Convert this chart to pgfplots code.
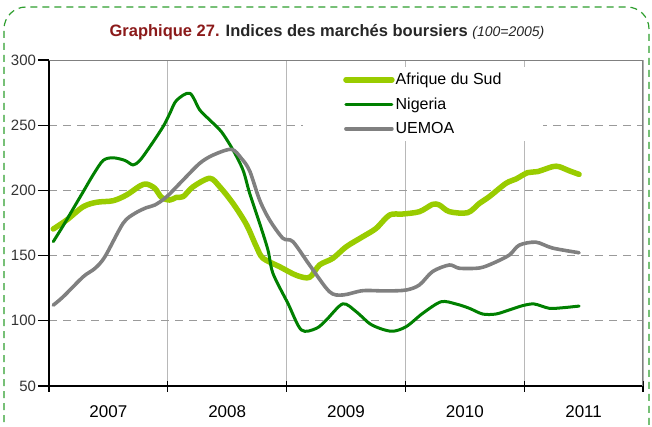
\documentclass[border=0pt]{standalone}
\usepackage{fontspec}
\setmainfont{Liberation Sans}
\usepackage{pgfplots}
\pgfplotsset{compat=1.18}
\definecolor{sudgreen}{HTML}{99CC00}
\definecolor{niggreen}{HTML}{008000}
\definecolor{uemgray}{HTML}{808080}
\definecolor{titlered}{HTML}{8B1A1A}
\definecolor{bordergreen}{HTML}{2E9E2E}
\definecolor{gridgray}{HTML}{9A9A9A}
\definecolor{vgridgray}{HTML}{B8B8B8}

\begin{document}
\begin{tikzpicture}[x=1pt,y=1pt]
\path[use as bounding box] (0,0) rectangle (652,426);
\draw[bordergreen, line width=1.2pt, dash pattern=on 7pt off 5pt, rounded corners=22pt] (4,-30) rectangle (649,419);
\node[font=\bfseries\fontsize{16.5}{18}\selectfont, text=black!85] at (327,394)
  {\textcolor{titlered}{Graphique 27.} Indices des marchés boursiers {\mdseries\itshape\fontsize{14}{16}\selectfont (100=2005)}};

\begin{axis}[
  at={(49pt,40pt)}, anchor=south west,
  scale only axis, width=594pt, height=326pt,
  xmin=0, xmax=5, ymin=50, ymax=300,
  axis lines=left,
  axis line style={-, black, line width=1.3pt},
  ytick={50,100,...,300},
  xtick={0,1,2,3,4,5},
  xticklabels={},
  tick align=center,
  major tick length=11pt,
  tick style={black, line width=1.2pt},
  ytick style={xshift=-5.5pt},
  xmajorgrids, ymajorgrids,
  x grid style={vgridgray, line width=0.8pt},
  y grid style={gridgray, line width=0.9pt, dash pattern=on 8pt off 6pt},
  /pgf/number format/assume math mode=true,
  yticklabel style={font=\fontsize{15}{17}\selectfont, text=black!80, xshift=-4pt},
  extra x ticks={0.5,1.5,2.5,3.5,4.5},
  extra x tick labels={2007,2008,2009,2010,2011},
  extra x tick style={grid=none, major tick length=0pt,
    tick label style={yshift=-16pt, font=\fontsize{17}{19}\selectfont, text=black}},
  legend style={at={(rel axis cs:0.4276,0.9785)}, anchor=north west,
    draw=none, fill=white, inner xsep=40pt, inner ysep=4pt,
    font=\fontsize{16}{18}\selectfont, row sep=7.5pt,
    cells={anchor=west}, nodes={inner xsep=1pt}},
  legend image code/.code={\draw[#1] (0pt,0pt) -- (46pt,0pt);},
  every axis plot/.append style={line cap=round, line join=round},
]
\addplot[sudgreen, line width=5.5pt, smooth] coordinates {
(0.036,170.4)(0.149,177.3)(0.288,187.5)(0.401,190.9)(0.540,192.1)(0.653,196.5)
(0.765,203.4)(0.821,204.9)(0.891,201.6)(0.947,194.7)(1.017,192.6)(1.073,194.7)
(1.129,195.2)(1.213,202.8)(1.353,209.3)(1.437,202.8)(1.549,190.0)(1.661,174.0)
(1.745,157.0)(1.801,148.0)(1.941,141.5)(2.082,134.9)(2.193,133.3)(2.277,142.8)
(2.389,147.9)(2.502,156.8)(2.641,164.5)(2.754,170.9)(2.866,181.1)(2.977,181.9)
(3.118,183.7)(3.229,189.3)(3.286,188.8)(3.370,183.7)(3.524,182.9)(3.622,190.0)
(3.706,195.2)(3.846,205.4)(3.930,208.7)(4.028,213.6)(4.112,214.4)(4.238,218.2)
(4.294,218.2)(4.378,215.1)(4.462,212.3)};
\addlegendentry{Afrique du Sud}
\addplot[niggreen, line width=3pt, smooth] coordinates {
(0.036,160.7)(0.120,173.0)(0.204,186.0)(0.288,199.0)(0.372,212.0)(0.456,223.0)
(0.540,225.0)(0.639,223.0)(0.708,219.5)(0.765,223.0)(0.849,233.5)(0.961,249.0)
(1.017,259.0)(1.073,269.0)(1.185,274.5)(1.269,261.7)(1.353,254.0)(1.451,245.0)
(1.549,231.0)(1.633,215.6)(1.689,197.8)(1.773,174.8)(1.843,154.3)(1.885,136.4)
(2.011,113.4)(2.124,93.0)(2.250,94.2)(2.334,100.6)(2.473,113.0)(2.586,107.0)
(2.714,97.0)(2.880,92.0)(3.006,95.5)(3.145,105.7)(3.300,114.6)(3.426,112.9)
(3.538,109.6)(3.650,105.2)(3.762,105.2)(3.874,108.3)(3.986,111.6)(4.084,112.9)
(4.210,109.6)(4.322,110.0)(4.462,111.3)};
\addlegendentry{Nigeria}
\addplot[uemgray, line width=3.6pt, smooth] coordinates {
(0.036,112.0)(0.120,118.5)(0.288,133.8)(0.387,140.2)(0.471,149.2)(0.624,174.8)
(0.723,182.4)(0.821,186.8)(0.891,188.8)(0.989,195.0)(1.129,208.0)(1.269,220.8)
(1.381,227.1)(1.535,231.5)(1.619,224.6)(1.689,215.0)(1.773,192.6)(1.857,177.3)
(1.969,163.3)(2.053,160.7)(2.193,142.8)(2.361,122.3)(2.473,119.8)(2.641,123.1)
(2.838,122.9)(3.006,123.6)(3.118,127.5)(3.229,137.8)(3.370,142.8)(3.454,140.3)
(3.622,140.5)(3.734,144.0)(3.874,150.4)(3.958,158.0)(4.098,160.3)(4.238,155.8)
(4.462,152.2)};
\addlegendentry{UEMOA}
\draw[uemgray, line width=1.6pt] (rel axis cs:0,1) -- (rel axis cs:1,1) -- (rel axis cs:1,0);
\end{axis}
\end{tikzpicture}
\end{document}
